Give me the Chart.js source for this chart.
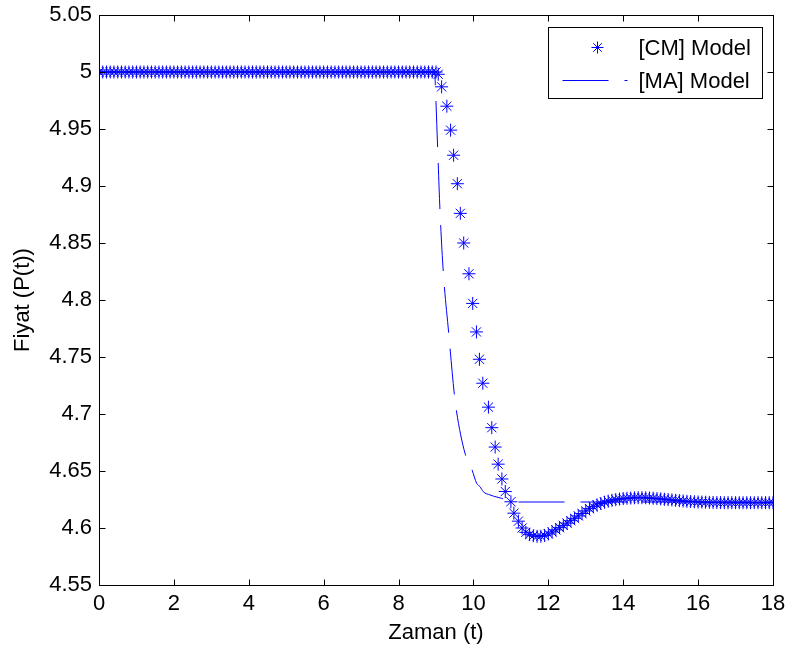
<!DOCTYPE html>
<html>
<head>
<meta charset="utf-8">
<script src="https://cdn.jsdelivr.net/npm/chart.js@4/dist/chart.umd.min.js"></script>
<style>
  body { margin: 0; background: #fff; }
  canvas { display: block; }
</style>
</head>
<body>
<canvas id="chart" width="789" height="649"></canvas>
<script>
// [CM] Model - stars (t, P(t))
var timeCM = [
  0,0.1,0.2,0.3,0.4,0.5,0.6,0.7,0.8,0.9,
  1,1.1,1.2,1.3,1.4,1.5,1.6,1.7,1.8,1.9,
  2,2.1,2.2,2.3,2.4,2.5,2.6,2.7,2.8,2.9,
  3,3.1,3.2,3.3,3.4,3.5,3.6,3.7,3.8,3.9,
  4,4.1,4.2,4.3,4.4,4.5,4.6,4.7,4.8,4.9,
  5,5.1,5.2,5.3,5.4,5.5,5.6,5.7,5.8,5.9,
  6,6.1,6.2,6.3,6.4,6.5,6.6,6.7,6.8,6.9,
  7,7.1,7.2,7.3,7.4,7.5,7.6,7.7,7.8,7.9,
  8,8.1,8.2,8.3,8.4,8.5,8.6,8.7,8.8,8.9,
  9,9.06,9.15,9.29,9.39,9.47,9.57,9.65,9.74,9.88,9.98,
  10.08,10.16,10.25,10.4,10.49,10.58,10.66,10.76,10.85,11,11.08,11.2,
  11.3,11.4,11.5,11.6,11.7,11.8,11.9,
  12,12.1,12.2,12.3,12.4,12.5,12.6,12.7,12.8,12.9,
  13,13.1,13.2,13.3,13.4,13.5,13.6,13.7,13.8,13.9,
  14,14.1,14.2,14.3,14.4,14.5,14.6,14.7,14.8,14.9,
  15,15.1,15.2,15.3,15.4,15.5,15.6,15.7,15.8,15.9,
  16,16.1,16.2,16.3,16.4,16.5,16.6,16.7,16.8,16.9,
  17,17.1,17.2,17.3,17.4,17.5,17.6,17.7,17.8,17.9,
  18
];
var valueCM = [
  5,5,5,5,5,5,5,5,5,5,
  5,5,5,5,5,5,5,5,5,5,
  5,5,5,5,5,5,5,5,5,5,
  5,5,5,5,5,5,5,5,5,5,
  5,5,5,5,5,5,5,5,5,5,
  5,5,5,5,5,5,5,5,5,5,
  5,5,5,5,5,5,5,5,5,5,
  5,5,5,5,5,5,5,5,5,5,
  5,5,5,5,5,5,5,5,5,5,
  5,4.998,4.987,4.970,4.949,4.927,4.902,4.876,4.850,4.823,4.797,
  4.772,4.748,4.727,4.706,4.688,4.671,4.656,4.643,4.632,4.623,4.613,4.606,
  4.6000,4.5962,4.5942,4.5932,4.5927,4.5928,4.5935,
  4.5948,4.5965,4.5984,4.6003,4.6023,4.6043,4.6064,4.6085,4.6106,4.6127,
  4.6150,4.6170,4.6187,4.6202,4.6215,4.6226,4.6235,4.6243,4.6249,4.6254,
  4.6258,4.6261,4.6263,4.6265,4.6266,4.6266,4.6265,4.6263,4.6261,4.6258,
  4.6255,4.6252,4.6249,4.6246,4.6243,4.6240,4.6237,4.6234,4.6232,4.6230,
  4.6228,4.6227,4.6226,4.6225,4.6224,4.6223,4.6223,4.6222,4.6222,4.6222,
  4.6222,4.6222,4.6222,4.6222,4.6222,4.6222,4.6222,4.6222,4.6222,4.6222,
  4.6222
];

// [MA] Model - dashed line
var timeMA = [0, 8.97, 8.98, 9.0, 9.045, 9.106, 9.195, 9.339, 9.489, 9.542, 9.775,
  9.954, 10.087, 10.176, 10.264, 10.443, 10.53, 10.755, 11.06, 18];
var valueMA = [5, 5, 4.99, 4.973, 4.9325, 4.879, 4.8246, 4.771, 4.7175, 4.7035, 4.6655,
  4.6518, 4.6392, 4.6362, 4.6318, 4.629, 4.628, 4.626, 4.6228, 4.6228];

var xTicks = [0, 2, 4, 6, 8, 10, 12, 14, 16, 18];
var yTicks = [4.55, 4.6, 4.65, 4.7, 4.75, 4.8, 4.85, 4.9, 4.95, 5, 5.05];
var seriesNames = ['[CM] Model', '[MA] Model'];

var FONT = "'Liberation Sans', Arial, Helvetica, sans-serif";
var FSIZE = 22;
var blue = '#0000ff';

function pairs(xs, ys) {
    return xs.map(function (x, i) { return { x: x, y: ys[i] }; });
}

// box + inward ticks on all four sides, legend drawn in the axes
var boxPlugin = {
    id: 'box',
    afterDatasetsDraw: function (chart) {
        var c = chart.ctx, a = chart.chartArea;
        var xs = chart.scales.x, ys = chart.scales.y;
        var L = Math.round(a.left) + 0.5, R = Math.round(a.right) + 0.5;
        var T = Math.round(a.top) + 0.5, B = Math.round(a.bottom) + 0.5;
        c.save();
        c.strokeStyle = '#000';
        c.lineWidth = 1;
        c.setLineDash([]);
        c.strokeRect(L, T, R - L, B - T);
        c.beginPath();
        xTicks.forEach(function (v) {
            var px = Math.round(xs.getPixelForValue(v)) + 0.5;
            c.moveTo(px, B); c.lineTo(px, B - 6);
            c.moveTo(px, T); c.lineTo(px, T + 6);
        });
        yTicks.forEach(function (v) {
            var py = Math.round(ys.getPixelForValue(v)) + 0.5;
            c.moveTo(L, py); c.lineTo(L + 6, py);
            c.moveTo(R, py); c.lineTo(R - 6, py);
        });
        c.stroke();

        // legend
        var lx = Math.round(a.right) - 225 + 0.5, ly = Math.round(a.top) + 12 + 0.5;
        c.fillStyle = '#fff';
        c.fillRect(lx, ly, 214, 71);
        c.strokeRect(lx, ly, 214, 71);
        c.strokeStyle = blue;
        var sx = lx + 49, sy = ly + 20, r = 6, d = r * Math.cos(Math.PI / 4);
        c.beginPath();
        c.moveTo(sx - r, sy); c.lineTo(sx + r, sy);
        c.moveTo(sx, sy - r); c.lineTo(sx, sy + r);
        c.moveTo(sx - d, sy - d); c.lineTo(sx + d, sy + d);
        c.moveTo(sx - d, sy + d); c.lineTo(sx + d, sy - d);
        c.stroke();
        c.setLineDash([46, 16]);
        c.beginPath();
        c.moveTo(lx + 14, ly + 53); c.lineTo(lx + 79, ly + 53);
        c.stroke();
        c.setLineDash([]);
        c.fillStyle = '#000';
        c.font = FSIZE + 'px ' + FONT;
        c.textBaseline = 'middle';
        c.textAlign = 'left';
        c.fillText(seriesNames[0], lx + 90, sy + 1);
        c.fillText(seriesNames[1], lx + 90, ly + 54);
        c.restore();
    }
};

var ctx = document.getElementById('chart');
var chart = new Chart(ctx, {
    type: 'line',
    data: {
        datasets: [{
            label: seriesNames[1],
            data: pairs(timeMA, valueMA),
            borderColor: blue,
            borderWidth: 1,
            borderDash: [46, 16],
            borderDashOffset: 7,
            pointRadius: 0,
            fill: false,
            cubicInterpolationMode: 'monotone'
        }, {
            label: seriesNames[0],
            data: pairs(timeCM, valueCM),
            showLine: false,
            pointStyle: 'star',
            pointRadius: 6.5,
            pointBorderWidth: 1,
            borderColor: blue,
            backgroundColor: blue
        }]
    },
    options: {
        responsive: false,
        animation: false,
        layout: { padding: { top: 15, right: 16 } },
        plugins: { legend: { display: false }, tooltip: { enabled: false } },
        scales: {
            x: {
                type: 'linear', min: 0, max: 18,
                afterBuildTicks: function (s) { s.ticks = xTicks.map(function (v) { return { value: v }; }); },
                ticks: { color: '#000', font: { family: FONT, size: FSIZE }, padding: 6, maxRotation: 0 },
                grid: { display: false, drawTicks: false },
                border: { display: false },
                title: { display: true, text: 'Zaman (t)', color: '#000', font: { family: FONT, size: FSIZE }, padding: { top: 0, bottom: 3 } },
                afterFit: function (s) { s.height = 64; s.paddingLeft = 0; s.paddingRight = 0; }
            },
            y: {
                type: 'linear', min: 4.55, max: 5.05,
                afterBuildTicks: function (s) { s.ticks = yTicks.map(function (v) { return { value: v }; }); },
                ticks: {
                    color: '#000', font: { family: FONT, size: FSIZE }, padding: 7,
                    callback: function (v) { return String(parseFloat(v.toFixed(2))); }
                },
                grid: { display: false, drawTicks: false },
                border: { display: false },
                title: { display: true, text: 'Fiyat (P(t))', color: '#000', font: { family: FONT, size: FSIZE }, padding: { top: 10, bottom: 0 } },
                afterFit: function (s) { s.width = 99; s.paddingTop = 0; s.paddingBottom = 0; }
            }
        }
    },
    plugins: [boxPlugin]
});
</script>
</body>
</html>
